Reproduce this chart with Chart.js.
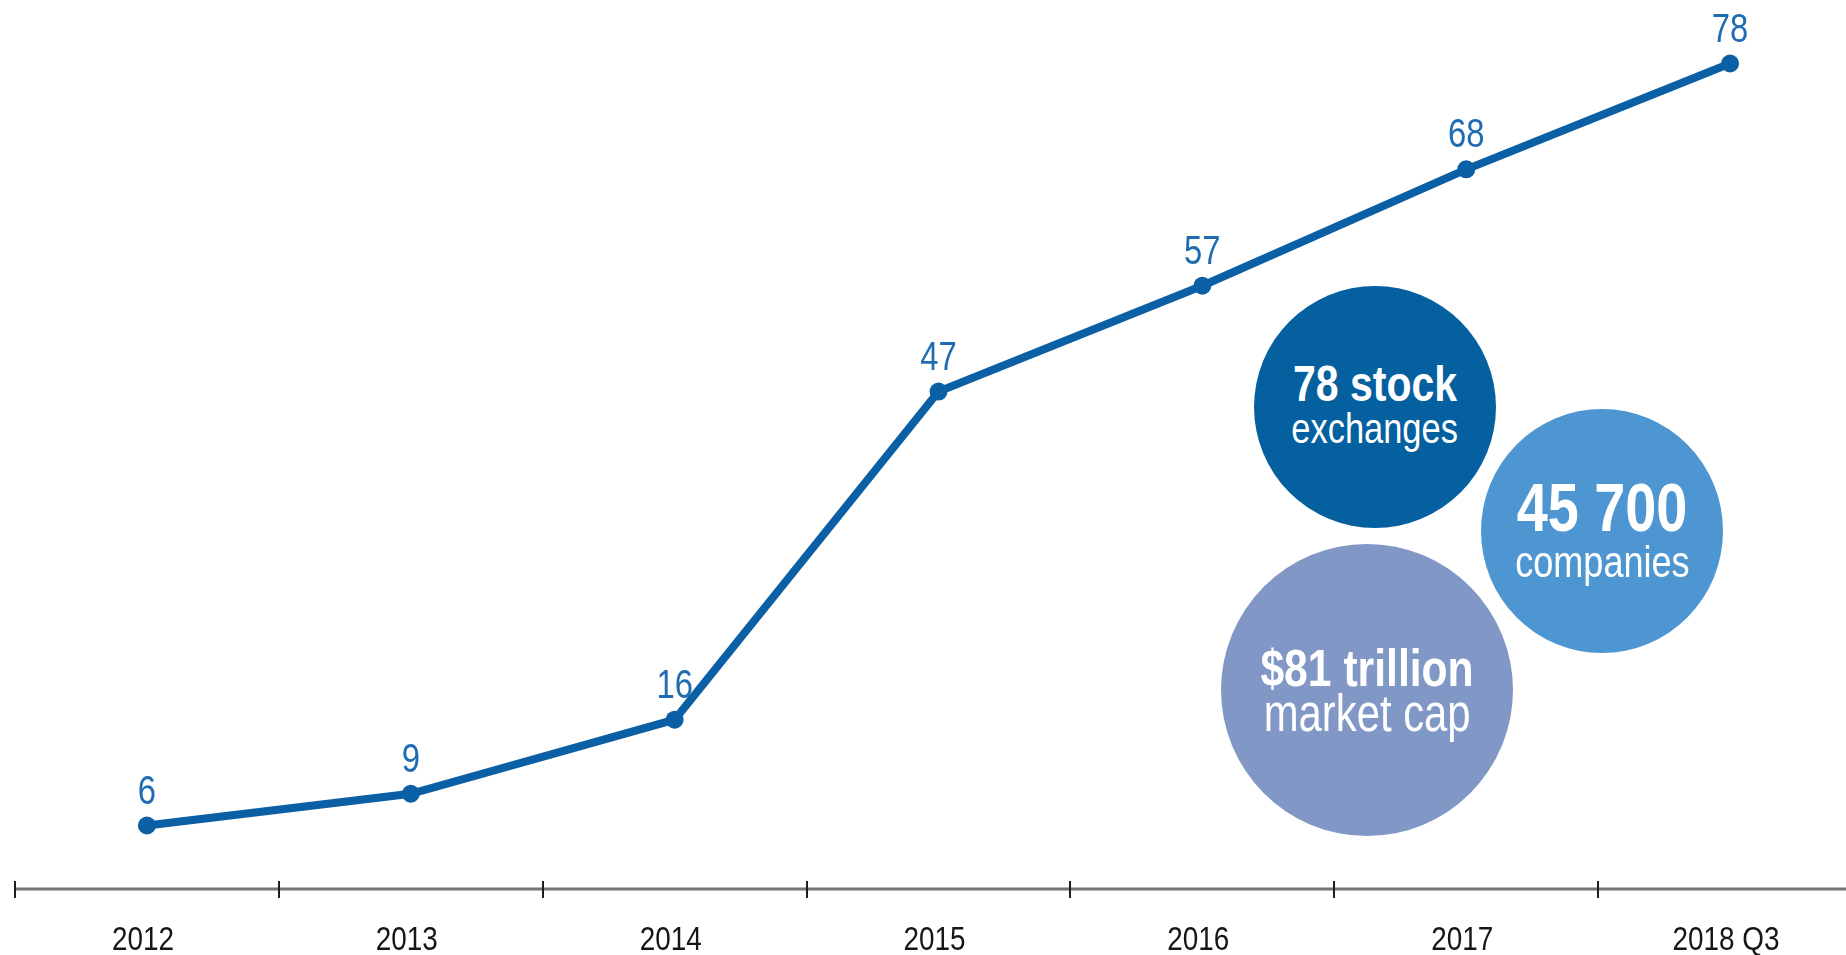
<!DOCTYPE html>
<html>
<head>
<meta charset="utf-8">
<script src="https://cdn.jsdelivr.net/npm/chart.js@4.4.0/dist/chart.umd.min.js"></script>
<style>
    html, body {margin: 0; padding: 0; background: #fff; overflow: hidden;}
    #wrap {position: relative; width: 1846px; height: 955px; overflow: hidden;}
    #chart-box {position: absolute; left: 0; top: 0; width: 1862px; height: 955px;}
    .bubble {position: absolute; border-radius: 50%; color: #fff; display: flex; flex-direction: column;
        align-items: center; justify-content: center; text-align: center;
        font-family: "Liberation Sans", Arial, sans-serif;}
    .bubble b, .bubble span {display: block; position: relative; white-space: nowrap; transform: scaleX(0.82);}
    .bubble b {font-weight: bold; line-height: 1.0;}
    .bubble span {line-height: 1.0;}
</style>
</head>
<body>
<div id="wrap">
    <div id="chart-box"><canvas id="chart"></canvas></div>
    <div class="bubble" id="b1" style="left:1254px; top:286px; width:242px; height:242px; background:#0560a0;">
        <b style="font-size:50px; top:-5px;"></b><span style="font-size:42px; margin-top:-6px;"></span>
    </div>
    <div class="bubble" id="b2" style="left:1481px; top:409px; width:242px; height:244px; background:#4e96d1;">
        <b style="font-size:68px; margin-top:-6px; top:-4px;"></b><span style="font-size:44px; margin-top:-10px; top:5px;"></span>
    </div>
    <div class="bubble" id="b3" style="left:1221px; top:544px; width:292px; height:292px; background:#8198c7;">
        <b style="font-size:52px;"></b><span style="font-size:51px; margin-top:-6px;"></span>
    </div>
</div>
<script>
const years = ['2012', '2013', '2014', '2015', '2016', '2017', '2018 Q3'];
const exchanges = [6, 9, 16, 47, 57, 68, 78];
const bubbleTitles = ['78 stock', '45 700', '$81 trillion'];
const bubbleSubs = ['exchanges', 'companies', 'market cap'];

const FONT = '"Liberation Sans", Arial, sans-serif';
const NARROW = 0.82;

['b1', 'b2', 'b3'].forEach((id, i) => {
    const el = document.getElementById(id);
    el.children[0].textContent = bubbleTitles[i];
    el.children[1].textContent = bubbleSubs[i];
});

function narrowText(c, text, x, y) {
    c.save();
    c.translate(x, y);
    c.scale(NARROW, 1);
    c.fillText(text, 0, 0);
    c.restore();
}

// value labels above the points
const valueLabels = {
    id: 'valueLabels',
    afterDatasetsDraw(chart) {
        const c = chart.ctx;
        const meta = chart.getDatasetMeta(0);
        c.save();
        c.font = '40px ' + FONT;
        c.fillStyle = '#1f6cb3';
        c.textAlign = 'center';
        c.textBaseline = 'alphabetic';
        meta.data.forEach((pt, i) => {
            narrowText(c, String(exchanges[i]), pt.x, pt.y - 22);
        });
        c.restore();
    }
};

// axis line with ticks crossing it, and the category labels under it
const axisLine = {
    id: 'axisLine',
    beforeDatasetsDraw(chart) {
        const c = chart.ctx;
        const xs = chart.scales.x;
        const y = chart.chartArea.bottom;
        const step = xs.getPixelForValue(1) - xs.getPixelForValue(0);
        c.save();
        c.strokeStyle = '#767676';
        c.lineWidth = 3;
        c.beginPath();
        c.moveTo(chart.chartArea.left, y);
        c.lineTo(chart.chartArea.right, y);
        c.stroke();
        c.strokeStyle = '#1e1e1e';
        c.lineWidth = 2;
        for (let i = 0; i < years.length; i++) {
            const x = Math.round(xs.getPixelForValue(i) - step / 2);
            c.beginPath();
            c.moveTo(x, y - 8);
            c.lineTo(x, y + 9);
            c.stroke();
        }
        c.font = '34px ' + FONT;
        c.fillStyle = '#161616';
        c.textAlign = 'center';
        c.textBaseline = 'alphabetic';
        for (let i = 0; i < years.length; i++) {
            narrowText(c, xs.getLabelForValue(i), xs.getPixelForValue(i) - 4, y + 61);
        }
        c.restore();
    }
};

const ctx = document.getElementById('chart');
let mainChart = new Chart(ctx, {
    type: 'line',
    data: {
        labels: years,
        datasets: [{
            data: exchanges,
            borderColor: '#0b5fa5',
            backgroundColor: '#0b5fa5',
            borderWidth: 8,
            pointRadius: 9,
            pointHoverRadius: 9,
            pointBorderWidth: 0,
            lineTension: 0,
            clip: false,
        }],
    },
    options: {
        responsive: true,
        maintainAspectRatio: false,
        animation: false,
        events: [],
        layout: {autoPadding: false, padding: {left: 15, right: 0, top: 0, bottom: 0}},
        plugins: {legend: {display: false}, tooltip: {enabled: false}},
        scales: {
            x: {
                offset: true,
                grid: {display: false, drawTicks: false, offset: true},
                border: {display: false},
                ticks: {display: false},
                afterFit(scale) {scale.height = 66;},
            },
            y: {display: false, min: 0, max: 84},
        },
    },
    plugins: [axisLine, valueLabels],
});
</script>
</body>
</html>
